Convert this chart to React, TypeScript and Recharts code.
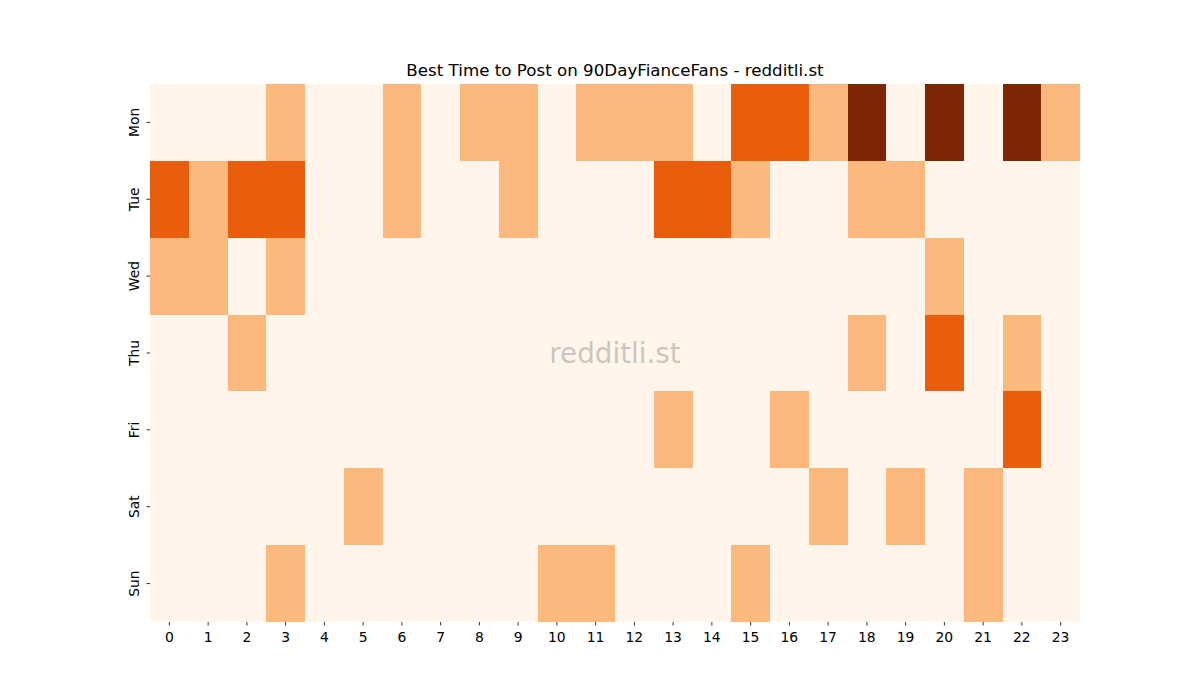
import { ScatterChart, Scatter, XAxis, YAxis } from "recharts";

const DAYS = ["Mon", "Tue", "Wed", "Thu", "Fri", "Sat", "Sun"];
const HOURS = Array.from({ length: 24 }, (_, i) => i);

// activity level per hour (0..3), one list per day
const MON = [0, 0, 0, 1, 0, 0, 1, 0, 1, 1, 0, 1, 1, 1, 0, 2, 2, 1, 3, 0, 3, 0, 3, 1];
const TUE = [2, 1, 2, 2, 0, 0, 1, 0, 0, 1, 0, 0, 0, 2, 2, 1, 0, 0, 1, 1, 0, 0, 0, 0];
const WED = [1, 1, 0, 1, 0, 0, 0, 0, 0, 0, 0, 0, 0, 0, 0, 0, 0, 0, 0, 0, 1, 0, 0, 0];
const THU = [0, 0, 1, 0, 0, 0, 0, 0, 0, 0, 0, 0, 0, 0, 0, 0, 0, 0, 1, 0, 2, 0, 1, 0];
const FRI = [0, 0, 0, 0, 0, 0, 0, 0, 0, 0, 0, 0, 0, 1, 0, 0, 1, 0, 0, 0, 0, 0, 2, 0];
const SAT = [0, 0, 0, 0, 0, 1, 0, 0, 0, 0, 0, 0, 0, 0, 0, 0, 0, 1, 0, 1, 0, 1, 0, 0];
const SUN = [0, 0, 0, 1, 0, 0, 0, 0, 0, 0, 1, 1, 0, 0, 0, 1, 0, 0, 0, 0, 0, 1, 0, 0];
const LEVELS = [MON, TUE, WED, THU, FRI, SAT, SUN];

const COLORS = ["#fff5eb", "#fdb97d", "#e95e0d", "#7f2704"];

const W = 1200;
const H = 700;
const PLOT = { left: 150, top: 84, width: 930, height: 538 };
const CELL_W = PLOT.width / HOURS.length;
const CELL_H = PLOT.height / DAYS.length;

const cells = LEVELS.flatMap((row, d) =>
  row.map((v, h) => ({ hour: h, day: d, level: v }))
);

const FONT = "DejaVu Sans, sans-serif";

const Cell = (props: any) => {
  const { cx, cy, payload } = props;
  return (
    <rect
      x={cx - CELL_W / 2}
      y={cy - CELL_H / 2}
      width={CELL_W + 0.5}
      height={CELL_H + 0.5}
      fill={COLORS[payload.level]}
      shapeRendering="crispEdges"
    />
  );
};

// recharts puts tick text 8px (tickSize + tickMargin) away from the axis
const DayTick = (props: any) => {
  const { x, y, payload } = props;
  return (
    <g transform={`translate(${x + 8},${y})`}>
      <line x1={0} x2={-3.5} y1={0} y2={0} stroke="#000" strokeWidth={0.8} />
      <text
        transform="rotate(-90)"
        x={0}
        y={-11}
        textAnchor="middle"
        fontSize={13.9}
        fontFamily={FONT}
        fill="#000"
      >
        {DAYS[payload.value]}
      </text>
    </g>
  );
};

const HourTick = (props: any) => {
  const { x, y, payload } = props;
  return (
    <g transform={`translate(${x},${y - 8})`}>
      <line x1={0} x2={0} y1={0} y2={3.5} stroke="#000" strokeWidth={0.8} />
      <text x={0} y={19.5} textAnchor="middle" fontSize={13.9} fontFamily={FONT} fill="#000">
        {payload.value}
      </text>
    </g>
  );
};

export default function App() {
  return (
    <div style={{ position: "absolute", left: 0, top: 0, width: W, height: H, background: "#fff" }}>
      <div
        style={{
          position: "absolute",
          top: 60,
          left: PLOT.left,
          width: PLOT.width,
          textAlign: "center",
          fontFamily: FONT,
          fontSize: 16.7,
          color: "#000",
        }}
      >
        Best Time to Post on 90DayFianceFans - redditli.st
      </div>
      <ScatterChart
        width={W}
        height={H}
        margin={{ top: PLOT.top, right: W - PLOT.left - PLOT.width, bottom: H - PLOT.top - PLOT.height - 40, left: PLOT.left - 40 }}
      >
        <XAxis
          type="number"
          dataKey="hour"
          domain={[-0.5, 23.5]}
          ticks={HOURS}
          interval={0}
          axisLine={false}
          tickLine={false}
          tick={<HourTick />}
          height={40}
          allowDataOverflow
        />
        <YAxis
          type="number"
          dataKey="day"
          domain={[-0.5, 6.5]}
          ticks={DAYS.map((_, i) => i)}
          interval={0}
          reversed
          axisLine={false}
          tickLine={false}
          tick={<DayTick />}
          width={40}
          allowDataOverflow
        />
        <Scatter data={cells} shape={<Cell />} isAnimationActive={false} />
      </ScatterChart>
      <div
        style={{
          position: "absolute",
          left: PLOT.left,
          width: PLOT.width,
          top: 337,
          textAlign: "center",
          fontFamily: FONT,
          fontSize: 27.8,
          color: "rgba(150,150,150,0.5)",
          pointerEvents: "none",
        }}
      >
        redditli.st
      </div>
    </div>
  );
}
